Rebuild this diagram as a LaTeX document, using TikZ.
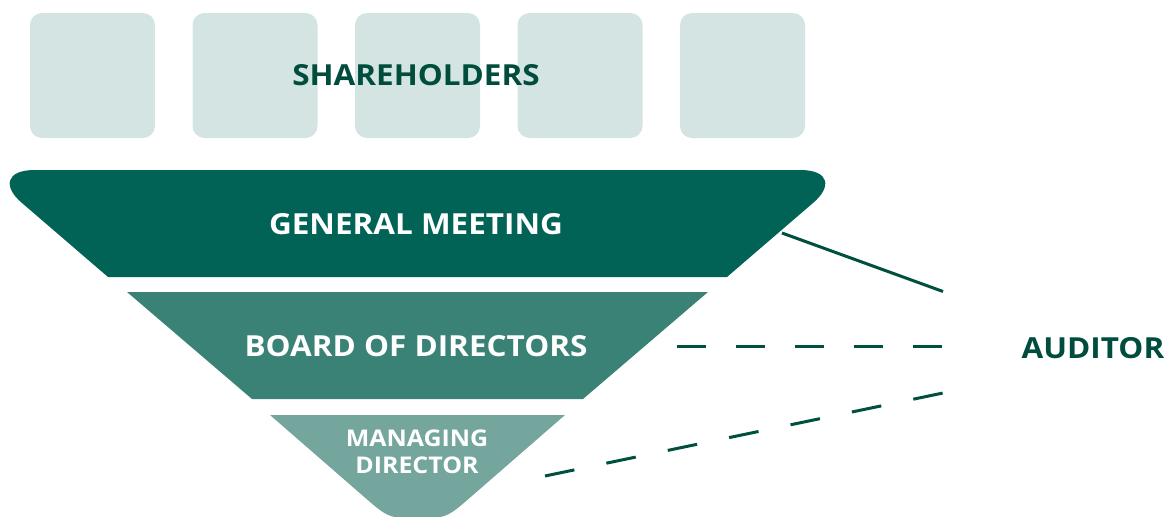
\documentclass[tikz,border=0pt]{standalone}
\usepackage{fontspec}
\setmainfont{Open Sans}
\definecolor{sqc}{HTML}{D4E4E2}
\definecolor{gmc}{HTML}{006356}
\definecolor{bdc}{HTML}{3A8276}
\definecolor{mdc}{HTML}{74A69E}
\definecolor{txc}{HTML}{004D3D}
\definecolor{lnc}{HTML}{00503F}
\newcommand{\wide}[1]{\scalebox{1.085}[1]{#1}}
\begin{document}
\begin{tikzpicture}[x=1pt,y=-1pt,
  sq/.style={fill=sqc, rounded corners=12pt},
  lbl/.style={font=\bfseries\fontsize{29}{31}\selectfont, inner sep=0pt},
  mdlbl/.style={font=\bfseries\fontsize{23}{27}\selectfont, inner sep=0pt, align=center},
  link/.style={draw=lnc, line width=3pt},
  dashlink/.style={link, dash pattern=on 29pt off 30pt}]
\useasboundingbox (0,0) rectangle (1168,517);
\clip (0,0) rectangle (1168,517);
% shareholders squares
\foreach \x in {30,192.5,355,517.5,680} \fill[sq] (\x,13) rectangle ++(125,125);
% general meeting
\fill[gmc] (108,277) -- (22,203) .. controls (3,187) and (5,170) .. (35,170)
  -- (800,170) .. controls (830,170) and (832,187) .. (813,203) -- (727,277) -- cycle;
% board of directors
\fill[bdc] (127,292) -- (708,292) -- (583,399) -- (252,399) -- cycle;
% managing director
\fill[mdc] (270,415) -- (565,415) -- (465,502) .. controls (452,513) and (446,518) .. (430,518)
  -- (405,518) .. controls (389,518) and (383,513) .. (370,502) -- cycle;
% labels
\node[lbl, text=txc] (sh) at (416,75) {\wide{SHAREHOLDERS}};
\node[lbl, text=white] (gm) at (416,224) {\wide{GENERAL MEETING}};
\node[lbl, text=white] (bd) at (416,346.5) {\wide{BOARD OF DIRECTORS}};
\node[mdlbl, text=white] (md) at (417,452) {\wide{MANAGING}\\\wide{DIRECTOR}};
\node[lbl, text=txc] (au) at (1093,348.5) {\wide{AUDITOR}};
% connector ends
\coordinate (gmR) at (782,233);
\coordinate (auA) at (943,291.5);
\coordinate (bdR) at (677,346);
\coordinate (auB) at (943,346);
\coordinate (mdR) at (545,476);
\coordinate (auC) at (943,393);
\draw[link] (gmR) -- (auA);
\draw[dashlink] (bdR) -- (auB);
\draw[link, dash pattern=on 30pt off 32.7pt] (mdR) -- (auC);
\end{tikzpicture}
\end{document}
